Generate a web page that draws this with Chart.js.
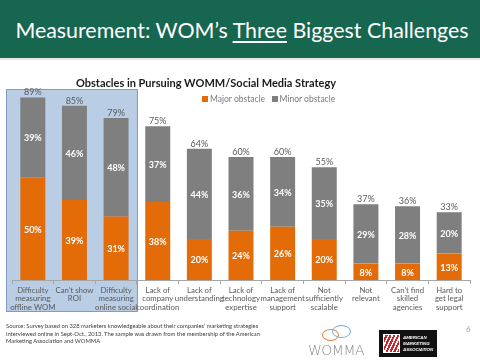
<!DOCTYPE html>
<html><head><meta charset="utf-8">
<script src="https://cdn.jsdelivr.net/npm/chart.js@4"></script>
<style>
html,body{margin:0;padding:0;width:480px;height:360px;overflow:hidden;background:#fff;font-family:Lato,'Open Sans',sans-serif;}
#banner{position:absolute;left:0;top:0;width:480px;height:58px;background:#176650;border-bottom:2px solid #e3e8e6;}
#banner h1{margin:0;position:absolute;left:0;width:484px;top:14px;text-align:center;color:#fff;font-weight:400;font-size:21.4px;line-height:32px;font-family:Lato,sans-serif;white-space:nowrap;}
#banner h1 u{text-decoration-thickness:1.5px;text-underline-offset:3px;}
#c{position:absolute;left:0;top:0;}
#ctitle{position:absolute;top:76px;left:56px;width:300px;text-align:center;font-weight:bold;font-size:11px;color:#1a1a1a;white-space:nowrap;}
#legend{position:absolute;top:94px;left:202px;font-size:8.5px;color:#7a7a7a;white-space:nowrap;line-height:10px;}
#legend span.sq{display:inline-block;width:6px;height:6px;margin-right:2px;vertical-align:0px;}
#src{position:absolute;left:6px;top:322px;font-size:5.8px;line-height:7.5px;color:#404040;white-space:nowrap;}
#pg{position:absolute;left:466px;top:324px;font-size:8px;color:#a6a6a6;}
#womma{position:absolute;left:308px;top:324px;width:64px;height:36px;}
.bub{position:absolute;border-radius:50%;border:1.5px solid;}
#wtext{position:absolute;left:0;top:18px;font-size:14px;letter-spacing:-0.5px;color:#8a8a8a;font-family:'DejaVu Sans',sans-serif;font-weight:300;}
#ama{position:absolute;left:379px;top:330px;width:58px;height:27px;background:#111;overflow:hidden;}
#amamark{position:absolute;left:4px;top:4px;width:17px;height:19px;background:repeating-linear-gradient(115deg,#fff 0 1.5px,#d2232a 1.5px 3.5px);border:1px solid #fff;box-sizing:border-box;}
#amatext{position:absolute;left:24px;top:5px;font-size:4.4px;line-height:6px;color:#fff;font-style:italic;font-weight:bold;font-family:'Liberation Sans',sans-serif;}
</style></head>
<body>
<div id="banner"><h1>Measurement: WOM’s <u>Three</u> Biggest Challenges</h1></div>
<canvas id="c" width="480" height="360"></canvas>
<div id="ctitle">Obstacles in Pursuing WOMM/Social Media Strategy</div>
<div id="legend"><span class="sq" style="background:#e36c09"></span>Major obstacle&nbsp;&nbsp;&nbsp;<span class="sq" style="background:#7f7f7f"></span>Minor obstacle</div>
<div id="src">Source: Survey based on 328 marketers knowledgeable about their companies’ marketing strategies<br>interviewed online in Sept-Oct., 2013. The sample was drawn from the membership of the American<br>Marketing Association and WOMMA</div>
<div id="womma">
  <div class="bub" style="left:14px;top:5px;width:15px;height:10px;border-color:#e8803a;"></div>
  <div class="bub" style="left:24px;top:1px;width:17px;height:11px;border-color:#6aaed6;"></div>
  <div id="wtext">WOMMA</div>
</div>
<div id="ama"><div id="amamark"></div><div id="amatext">AMERICAN<br>MARKETING<br>ASSOCIATION</div></div>
<div id="pg">6</div>
<script>
const categories = [
  ["Difficulty","measuring","offline WOM"],
  ["Can’t show","ROI"],
  ["Difficulty","measuring","online social"],
  ["Lack of","company","coordination"],
  ["Lack of","understanding"],
  ["Lack of","technology","expertise"],
  ["Lack of","management","support"],
  ["Not","sufficiently","scalable"],
  ["Not","relevant"],
  ["Can’t find","skilled","agencies"],
  ["Hard to","get legal","support"]
];
const majorObstacle = [50,39,31,38,20,24,26,20,8,8,13];
const minorObstacle = [39,46,48,37,44,36,34,35,29,28,20];
const totalShares   = [89,85,79,75,64,60,60,55,37,36,33];
const highlightCount = 3;

const highlightBox = {
  id:'highlightBox',
  beforeDraw(chart){
    const x = chart.scales.x, ctx = chart.ctx;
    const step = x.getPixelForValue(1) - x.getPixelForValue(0);
    const left = x.getPixelForValue(0) - step/2 - 6;
    const right = x.getPixelForValue(highlightCount-1) + step/2 + 1;
    ctx.save();
    ctx.fillStyle = '#b9cde5';
    ctx.strokeStyle = '#7f9cc4';
    ctx.lineWidth = 1;
    ctx.fillRect(left, 89, right-left, 312-89);
    ctx.strokeRect(left+0.5, 89.5, right-left-1, 312-89-1);
    ctx.restore();
  }
};
const valueLabels = {
  id:'valueLabels',
  afterDatasetsDraw(chart){
    const ctx = chart.ctx;
    ctx.save();
    ctx.textAlign = 'center';
    ctx.textBaseline = 'middle';
    ctx.font = 'bold 9px Lato';
    ctx.fillStyle = '#ffffff';
    chart.data.datasets.forEach((ds, i) => {
      chart.getDatasetMeta(i).data.forEach((bar, j) => {
        const p = bar.getProps(['x','y','base'], true);
        ctx.fillText(ds.data[j] + '%', p.x, (p.y + p.base)/2 + 1);
      });
    });
    ctx.font = '9px Lato';
    ctx.fillStyle = '#595959';
    const top = chart.getDatasetMeta(1).data;
    top.forEach((bar, j) => {
      const p = bar.getProps(['x','y'], true);
      ctx.fillText(totalShares[j] + '%', p.x, p.y - 5);
    });
    ctx.restore();
  }
};

new Chart(document.getElementById('c'), {
  type:'bar',
  data:{
    labels: categories,
    datasets:[
      {label:'Major obstacle', data: majorObstacle, backgroundColor:'#e36c09', barPercentage:0.6, categoryPercentage:1.0},
      {label:'Minor obstacle', data: minorObstacle, backgroundColor:'#7f7f7f', barPercentage:0.6, categoryPercentage:1.0}
    ]
  },
  options:{
    responsive:false, animation:false, devicePixelRatio:1,
    layout:{autoPadding:false, padding:{left:12, right:10, top:75, bottom:40}},
    plugins:{legend:{display:false}, title:{display:false}, tooltip:{enabled:false}},
    scales:{
      x:{
        stacked:true,
        grid:{offset:true, drawOnChartArea:false, drawTicks:true, tickLength:4, color:'#a6a6a6'},
        border:{color:'#a6a6a6'},
        ticks:{color:'#595959', font:{family:'Lato', size:7.8, lineHeight:1.1}, padding:2, maxRotation:0, autoSkip:false},
        afterFit(s){ s.height = 40; }
      },
      y:{stacked:true, display:false, min:0, max:100}
    }
  },
  plugins:[highlightBox, valueLabels]
});
</script>
</body></html>
